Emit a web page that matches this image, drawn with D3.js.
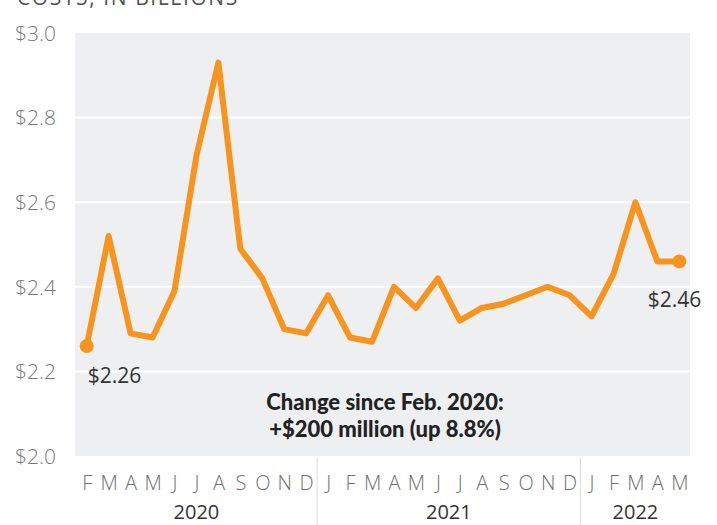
<!DOCTYPE html>
<html>
<head>
<meta charset="utf-8">
<script src="https://cdn.jsdelivr.net/npm/d3@7"></script>
<style>
  body { margin: 0; background: #fff; }
  svg { display: block; font-family: "Open Sans", "Lato", sans-serif; }
</style>
</head>
<body>
<svg id="chart" width="717" height="525"></svg>
<script>
// monthly costs, in billions (Feb 2020 .. May 2022)
const months = ["F","M","A","M","J","J","A","S","O","N","D",
                "J","F","M","A","M","J","J","A","S","O","N","D",
                "J","F","M","A","M"];
const costs = [2.26, 2.52, 2.29, 2.28, 2.39, 2.71, 2.93, 2.49, 2.42, 2.30, 2.29,
               2.38, 2.28, 2.27, 2.40, 2.35, 2.42, 2.32, 2.35, 2.36, 2.38, 2.40, 2.38,
               2.33, 2.43, 2.60, 2.46, 2.46];
const years = ["2020", "2021", "2022"];
const yearStart = [0, 11, 23];   // index of first month of each year
const yTicks = [2.0, 2.2, 2.4, 2.6, 2.8, 3.0];
const title = "COSTS, IN BILLIONS";
const note = ["Change since Feb. 2020:", "+$200 million (up 8.8%)"];

const svg = d3.select("#chart");
const plot = { left: 75, right: 690, top: 33, bottom: 456 };

const x = d3.scaleLinear().domain([0, costs.length - 1]).range([86.7, 679.3]);
const y = d3.scaleLinear().domain([2.0, 3.0]).range([plot.bottom, plot.top]);

// title (cut off at top, as in the source)
svg.append("text")
    .attr("x", 17).attr("y", 5)
    .attr("font-size", 21)
    .attr("letter-spacing", 1.6)
    .attr("fill", "#555")
    .text(title);

// plot background
svg.append("rect")
    .attr("x", plot.left).attr("y", plot.top)
    .attr("width", plot.right - plot.left)
    .attr("height", plot.bottom - plot.top)
    .attr("fill", "#eeeff1");

// gridlines
svg.append("g")
    .selectAll("line")
    .data(yTicks.filter(d => d > 2.0 && d < 3.0))
    .join("line")
    .attr("x1", plot.left).attr("x2", plot.right)
    .attr("y1", d => y(d)).attr("y2", d => y(d))
    .attr("stroke", "#fff")
    .attr("stroke-width", 2);

// y axis
const yAxis = svg.append("g")
    .attr("transform", `translate(${plot.left - 16},0)`)
    .call(d3.axisLeft(y).tickValues(yTicks).tickSize(0).tickFormat(d => "$" + d.toFixed(1)));
yAxis.select(".domain").remove();
yAxis.selectAll("text")
    .attr("font-family", "'Open Sans', sans-serif")
    .attr("font-size", 21)
    .attr("font-weight", 300)
    .attr("fill", "#777")
    .attr("dy", "0.35em");

// x axis month letters
const xAxis = svg.append("g")
    .attr("transform", `translate(0,${plot.bottom})`)
    .call(d3.axisBottom(x).tickValues(d3.range(costs.length)).tickSize(0).tickFormat(i => months[i]));
xAxis.select(".domain").remove();
xAxis.selectAll("text")
    .attr("font-family", "'Open Sans', sans-serif")
    .attr("font-size", 20)
    .attr("font-weight", 300)
    .attr("fill", "#707070")
    .attr("y", 20)
    .attr("dy", "0.71em");

// year separators
svg.append("g")
    .selectAll("line")
    .data(yearStart.slice(1))
    .join("line")
    .attr("x1", d => (x(d) + x(d - 1)) / 2)
    .attr("x2", d => (x(d) + x(d - 1)) / 2)
    .attr("y1", plot.bottom + 2).attr("y2", 525)
    .attr("stroke", "#dcdcdc")
    .attr("stroke-width", 1);

// year labels
svg.append("g")
    .selectAll("text")
    .data(years)
    .join("text")
    .attr("x", (d, i) => {
        const a = yearStart[i];
        const b = i < years.length - 1 ? yearStart[i + 1] - 1 : costs.length - 1;
        return (x(a) + x(b)) / 2;
    })
    .attr("y", 519)
    .attr("text-anchor", "middle")
    .attr("font-size", 20)
    .attr("fill", "#333")
    .text(d => d);

// line
const line = d3.line()
    .x((d, i) => x(i))
    .y(d => y(d));

svg.append("path")
    .datum(costs)
    .attr("d", line)
    .attr("fill", "none")
    .attr("stroke", "#f7941d")
    .attr("stroke-width", 6)
    .attr("stroke-linejoin", "round")
    .attr("stroke-linecap", "round");

// end points
const ends = [0, costs.length - 1];
svg.append("g")
    .selectAll("circle")
    .data(ends)
    .join("circle")
    .attr("cx", i => x(i))
    .attr("cy", i => y(costs[i]))
    .attr("r", 7)
    .attr("fill", "#f7941d");

// end labels
svg.append("text")
    .attr("x", x(0) + 1)
    .attr("y", y(costs[0]) + 37)
    .attr("font-size", 21)
    .attr("fill", "#333")
    .text("$" + costs[0].toFixed(2));

svg.append("text")
    .attr("x", x(costs.length - 1) + 22)
    .attr("y", y(costs[costs.length - 1]) + 46)
    .attr("text-anchor", "end")
    .attr("font-size", 21)
    .attr("fill", "#333")
    .text("$" + costs[costs.length - 1].toFixed(2));

// annotation
svg.append("text")
    .attr("x", 385)
    .attr("y", 410)
    .attr("text-anchor", "middle")
    .attr("font-family", "'Lato', sans-serif")
    .attr("font-weight", 900)
    .attr("font-size", 22)
    .attr("fill", "#222")
    .selectAll("tspan")
    .data(note)
    .join("tspan")
    .attr("x", 385)
    .attr("dy", (d, i) => i ? 27 : 0)
    .text(d => d);
</script>
</body>
</html>
